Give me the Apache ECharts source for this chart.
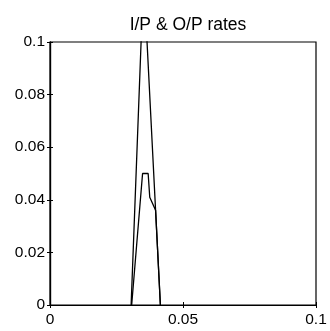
<!DOCTYPE html>
<html>
<head>
<meta charset="utf-8">
<script src="https://cdn.jsdelivr.net/npm/echarts@6/dist/echarts.min.js"></script>
<style>
html,body{margin:0;padding:0;background:#fff;}
#c{width:330px;height:331px;}
</style>
</head>
<body>
<div id="c"></div>
<script>
const titleText = "I/P & O/P rates";
const xTicks = [0, 0.05, 0.1];
const yTicks = [0, 0.02, 0.04, 0.06, 0.08, 0.1];
// I/P rate (tall peak, clipped above 0.1)
const ipX = [0.0305, 0.0352, 0.0415];
const ipY = [0, 0.1255, 0];
// O/P rate (small peak with flat top)
const opX = [0.0307, 0.0348, 0.0369, 0.0375, 0.0397, 0.0415];
const opY = [0, 0.05, 0.05, 0.041, 0.036, 0];

const ip = ipX.map((x, i) => [x, ipY[i]]);
const op = opX.map((x, i) => [x, opY[i]]);

const fontFam = '"Liberation Sans", Arial, Helvetica, sans-serif';
const labelStyle = {color: '#000', fontSize: 15.5, fontFamily: fontFam};

function fmt(v) {
  if (v === 0) return '0';
  return String(+v.toFixed(3));
}

const chart = echarts.init(document.getElementById('c'), null, {renderer: 'canvas'});
chart.setOption({
  animation: false,
  backgroundColor: '#fff',
  title: {
    text: titleText,
    left: 183, top: 11,
    textAlign: 'center',
    textStyle: {color: '#000', fontSize: 17.5, fontWeight: 'normal', fontFamily: fontFam}
  },
  grid: {left: 50, right: 14, top: 42, bottom: 26, show: true, borderColor: '#000', borderWidth: 1.2},
  xAxis: [
    {type: 'value', min: 0, max: 0.1, interval: 0.05, position: 'bottom',
     axisLine: {show: true, lineStyle: {color: '#000', width: 1.2}},
     axisTick: {show: true, inside: true, length: 3, lineStyle: {color: '#000'}},
     axisLabel: Object.assign({margin: 7, formatter: fmt}, labelStyle),
     splitLine: {show: false}},
    {type: 'value', min: 0, max: 0.1, interval: 0.05, position: 'top',
     axisLine: {show: true, lineStyle: {color: '#000', width: 1.2}},
     axisTick: {show: true, inside: true, length: 3, lineStyle: {color: '#000'}},
     axisLabel: {show: false}, splitLine: {show: false}}
  ],
  yAxis: [
    {type: 'value', min: 0, max: 0.1, interval: 0.02, position: 'left',
     axisLine: {show: true, lineStyle: {color: '#000', width: 1.2}},
     axisTick: {show: true, inside: true, length: 3, lineStyle: {color: '#000'}},
     axisLabel: Object.assign({margin: 5, formatter: fmt}, labelStyle),
     splitLine: {show: false}},
    {type: 'value', min: 0, max: 0.1, interval: 0.02, position: 'right',
     axisLine: {show: true, lineStyle: {color: '#000', width: 1.2}},
     axisTick: {show: true, inside: true, length: 3, lineStyle: {color: '#000'}},
     axisLabel: {show: false}, splitLine: {show: false}}
  ],
  series: [
    {name: 'I/P', type: 'line', data: ip, showSymbol: false, clip: true,
     lineStyle: {color: '#000', width: 1.3}},
    {name: 'O/P', type: 'line', data: op, showSymbol: false, clip: true,
     lineStyle: {color: '#000', width: 1.3}}
  ]
});
</script>
</body>
</html>
